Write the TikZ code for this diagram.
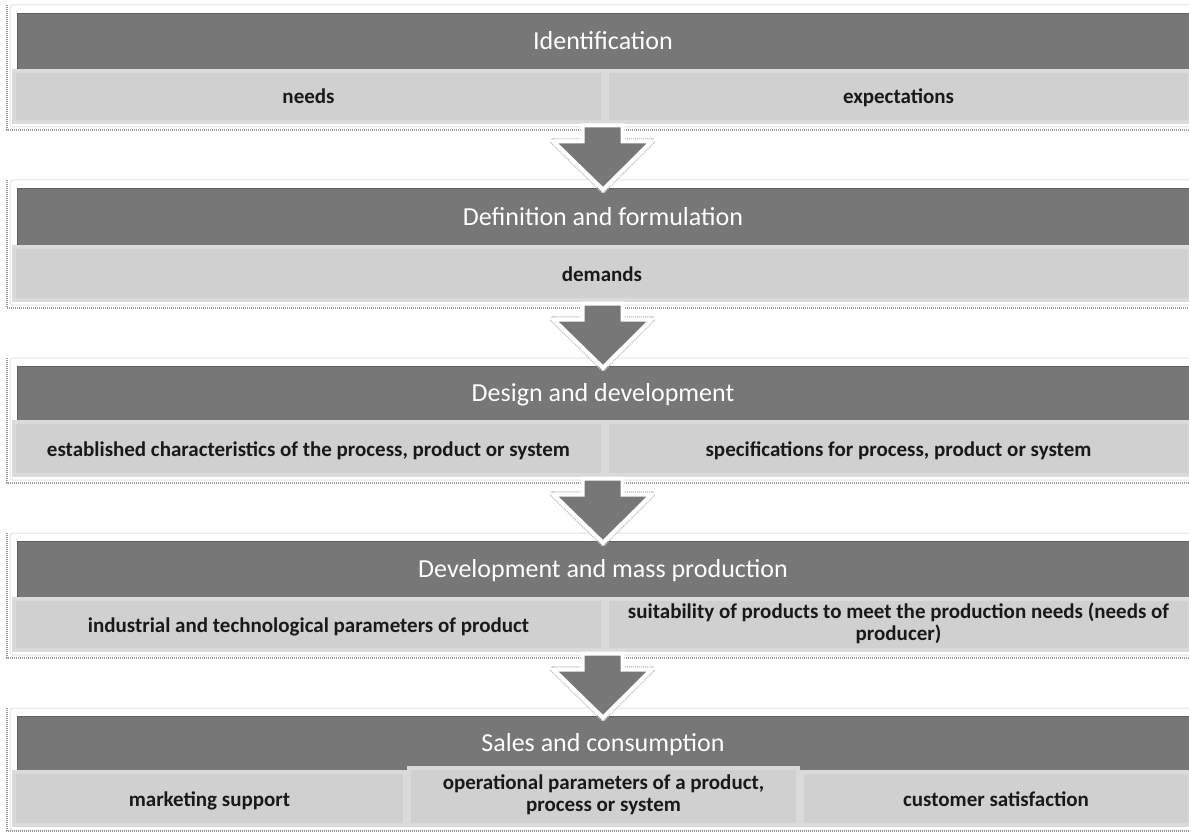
\documentclass[tikz,border=0pt]{standalone}
\usepackage{fontspec}
\setmainfont{Carlito}
\usetikzlibrary{calc}
\definecolor{darkg}{HTML}{777777}
\definecolor{lightg}{HTML}{D0D0D0}
\definecolor{lightedge}{HTML}{DADADA}
\definecolor{frameedge}{HTML}{E4E4E4}
\definecolor{dotg}{HTML}{9A9A9A}
\newcommand\cstrut{\rule[-6pt]{0pt}{27pt}}
\newcommand\hstrut{\rule[-9pt]{0pt}{35pt}}
\tikzset{
  head/.style={fill=darkg, draw=darkg!80!black, line width=0.6pt, text=white,
    font=\fontsize{26}{31}\selectfont, inner sep=0pt,
    execute at begin node=\hstrut},
  cell/.style={fill=lightg, draw=lightedge, line width=4pt, align=center,
    font=\bfseries\fontsize{21}{22}\selectfont, inner sep=0pt, text=black!90,
    execute at begin node=\cstrut, execute at end node=\cstrut},
  frame/.style={fill=white, draw=frameedge, line width=1pt, rounded corners=3pt, inner sep=0pt},
  dotshadow/.style={draw=dotg, line width=2.5pt, dash pattern=on 1pt off 1pt},
  flowarrow/.style={fill=darkg, draw=white, line width=4pt, line join=miter},
  arrowshadow/.style={draw=dotg!55, line width=7pt, dash pattern=on 1pt off 1pt, line join=round},
}
\newcommand\bigarrow[2]{%
  \draw[arrowshadow, xshift=1.5pt, yshift=-1.5pt] let \p1=(#1), \p2=(#2) in
    (\x1-20pt,\y1-14pt) -- (\x1-49pt,\y1-14pt) -- (\x2,\y2-2pt) -- (\x1+49pt,\y1-14pt) -- (\x1+20pt,\y1-14pt);
  \draw[flowarrow] let \p1=(#1), \p2=(#2) in
    (\x1-20pt,\y1+2pt) -- (\x1-20pt,\y1-14pt) -- (\x1-49pt,\y1-14pt) -- (\x2,\y2-2pt)
    -- (\x1+49pt,\y1-14pt) -- (\x1+20pt,\y1-14pt) -- (\x1+20pt,\y1+2pt) -- cycle;
}
\begin{document}
\begin{tikzpicture}[x=1pt,y=-1pt]
\useasboundingbox (0,0) rectangle (1189,832);
\fill[white] (0,0) rectangle (1189,832);

% ---------- Block 1
\node[frame, minimum width=1185, minimum height=122] (f1) at (602.5,66) {};
\draw[dotshadow] (7,5) -- (7,130) -- (1189,130);
\node[head, minimum width=1172, minimum height=56] (h1) at (603,41) {Identification};
\node[cell, minimum width=589, minimum height=51] (c11) at (308.5,96.5) {needs};
\node[cell, minimum width=583, minimum height=51] (c12) at (898.5,96.5) {expectations};

% ---------- Block 2
\node[frame, minimum width=1185, minimum height=125] (f2) at (602.5,242.5) {};
\draw[dotshadow] (7,180) -- (7,308) -- (1189,308);
\node[head, minimum width=1172, minimum height=57] (h2) at (603,216.5) {Definition and formulation};
\node[cell, minimum width=1176, minimum height=53] (c21) at (602,273.5) {demands};

% ---------- Block 3
\node[frame, minimum width=1185, minimum height=122] (f3) at (602.5,419) {};
\draw[dotshadow] (7,358) -- (7,483) -- (1189,483);
\node[head, minimum width=1172, minimum height=54] (h3) at (603,393) {Design and development};
\node[cell, minimum width=589, minimum height=53] (c31) at (308.5,448.5) {established characteristics of the process, product or system};
\node[cell, minimum width=583, minimum height=53] (c32) at (898.5,448.5) {specifications for process, product or system};

% ---------- Block 4
\node[frame, minimum width=1185, minimum height=122] (f4) at (602.5,594) {};
\draw[dotshadow] (7,533) -- (7,658) -- (1189,658);
\node[head, minimum width=1172, minimum height=56] (h4) at (603,569) {Development and mass production};
\node[cell, minimum width=589, minimum height=51] (c41) at (308.5,624.5) {industrial and technological parameters of product};
\node[cell, minimum width=583, minimum height=51] (c42) at (898.5,624.5) {suitability of products to meet the production needs (needs of\\producer)};

% ---------- Block 5
\node[frame, minimum width=1185, minimum height=122] (f5) at (602.5,769) {};
\draw[dotshadow] (7,708) -- (7,831) -- (1189,831);
\node[head, minimum width=1172, minimum height=54] (h5) at (603,743) {Sales and consumption};
\node[cell, minimum width=391, minimum height=53] (c51) at (209.5,798.5) {marketing support};
\node[cell, minimum width=388, minimum height=53] (c53) at (996,798.5) {customer satisfaction};
\node[cell, minimum width=389, minimum height=57] (c52) at (603.5,796.5) {operational parameters of a product,\\process or system};

% ---------- arrows
\bigarrow{f1.south}{h2.north}
\bigarrow{f2.south}{h3.north}
\bigarrow{f3.south}{h4.north}
\bigarrow{f4.south}{h5.north}
\end{tikzpicture}
\end{document}
